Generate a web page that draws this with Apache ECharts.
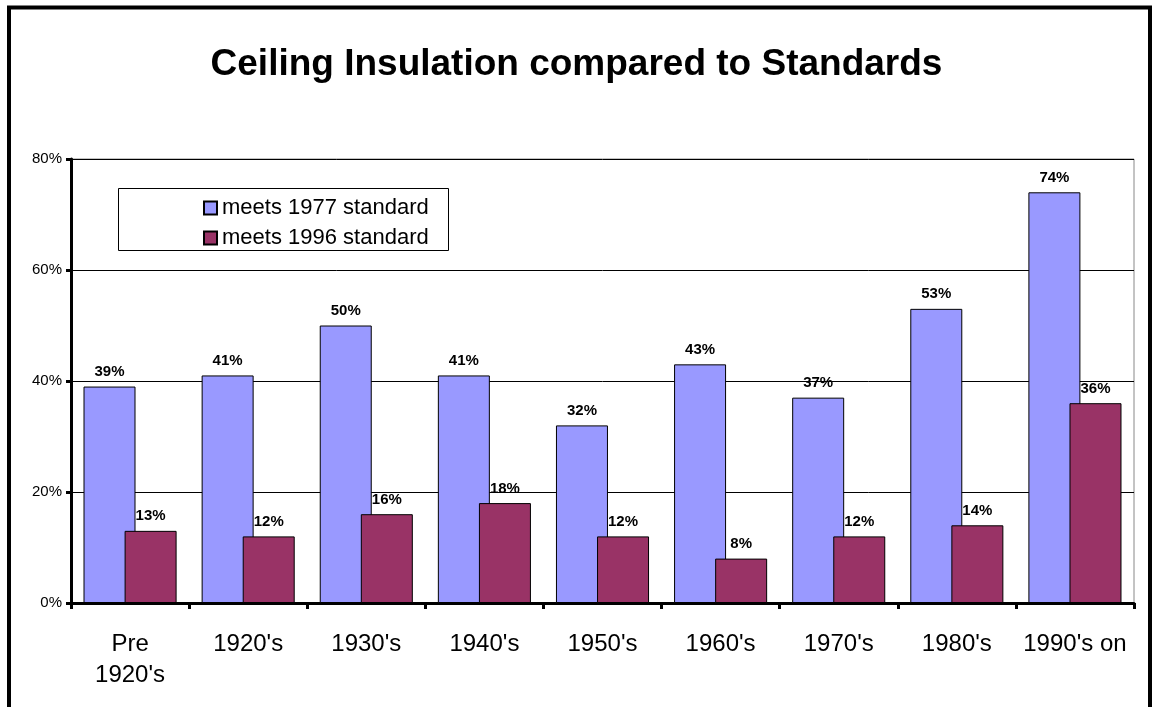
<!DOCTYPE html>
<html>
<head>
<meta charset="utf-8">
<script src="https://cdn.jsdelivr.net/npm/echarts@6/dist/echarts.min.js"></script>
<style>
  html, body { margin: 0; padding: 0; background: #fff; }
  #chart { width: 1153px; height: 707px; }
</style>
</head>
<body>
<div id="chart"></div>
<script>
// data
var categories = ["Pre\n1920's", "1920's", "1930's", "1940's", "1950's", "1960's", "1970's", "1980's", "1990's on"];
var meets1977 = [39, 41, 50, 41, 32, 43, 37, 53, 74];
var meets1996 = [13, 12, 16, 18, 12, 8, 12, 14, 36];
var yTicks = [0, 20, 40, 60, 80];

var chart = echarts.init(document.getElementById('chart'));

var labelStyle = {
  show: true,
  position: 'top',
  distance: 7,
  formatter: '{c}%',
  fontFamily: 'Arial, Liberation Sans',
  fontWeight: 'bold',
  fontSize: 15,
  color: '#000'
};

chart.setOption({
  animation: false,
  textStyle: { fontFamily: 'Arial, Liberation Sans' },
  title: {
    text: 'Ceiling Insulation compared to Standards',
    left: 'center',
    top: 41,
    textStyle: { fontSize: 37, fontWeight: 'bold', color: '#000', fontFamily: 'Arial, Liberation Sans' }
  },
  graphic: [
    // outer frame
    { type: 'rect', shape: { x: 9, y: 7.5, width: 1141, height: 800 },
      style: { fill: 'none', stroke: '#000', lineWidth: 4 }, z: 100 },
    // legend box
    { type: 'rect', shape: { x: 118.5, y: 188.5, width: 330, height: 62 },
      style: { fill: '#fff', stroke: '#000', lineWidth: 1 }, z: 5 }
  ],
  legend: {
    orient: 'vertical',
    left: 198,
    top: 192,
    itemWidth: 13,
    itemHeight: 13,
    itemGap: 8,
    itemTextGap: 6,
    icon: 'rect',
    textStyle: { fontSize: 22, color: '#000', fontFamily: 'Arial, Liberation Sans' },
    z: 10
  },
  grid: {
    left: 71, right: 19, top: 159, bottom: 104,
    show: true, borderColor: '#888', borderWidth: 1
  },
  xAxis: {
    type: 'category',
    data: categories,
    axisLine: { lineStyle: { color: '#000', width: 3 } },
    axisTick: { show: true, length: 6, lineStyle: { color: '#000', width: 3 } },
    axisLabel: { color: '#000', fontSize: 24, margin: 26, lineHeight: 31, interval: 0 }
  },
  yAxis: {
    type: 'value',
    min: yTicks[0],
    max: yTicks[yTicks.length - 1],
    interval: 20,
    axisLine: { show: true, lineStyle: { color: '#000', width: 3 } },
    axisTick: { show: true, length: 5, lineStyle: { color: '#000', width: 3 } },
    axisLabel: { color: '#000', fontSize: 15, margin: 9, formatter: '{value}%' },
    splitLine: { lineStyle: { color: '#000', width: 1 } }
  },
  series: [
    {
      name: 'meets 1977 standard',
      type: 'bar',
      data: meets1977,
      barWidth: 52,
      barGap: '-21%',
      itemStyle: { color: '#9999FF', borderColor: '#000', borderWidth: 1 },
      label: labelStyle
    },
    {
      name: 'meets 1996 standard',
      type: 'bar',
      data: meets1996,
      barWidth: 52,
      barGap: '-21%',
      itemStyle: { color: '#993366', borderColor: '#000', borderWidth: 1 },
      label: labelStyle
    }
  ]
});
</script>
</body>
</html>
